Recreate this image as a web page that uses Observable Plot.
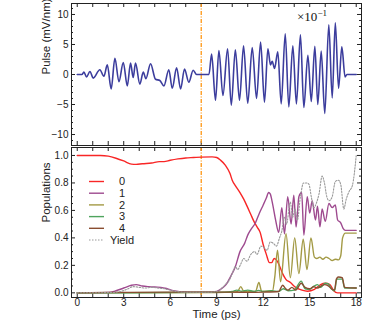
<!DOCTYPE html>
<html><head><meta charset="utf-8">
<script src="https://cdn.jsdelivr.net/npm/d3@7"></script>
<script src="https://cdn.jsdelivr.net/npm/@observablehq/plot@0.6"></script>
<style>body{margin:0;background:#fff;} svg{display:block;}</style>
</head><body><div id="chart"></div>
<script>
// ---------- DATA ----------
const pulse = [[0,0],[0.3,0],[0.43,0.4],[0.6,-0.4],[0.82,0.5],[1.03,-0.6],[1.46,0.8],[1.72,-0.3],[1.94,1.6],[2.19,-2.4],[2.43,2.7],[2.69,-1.2],[2.97,2.0],[3.23,-1.9],[3.44,1.9],[3.61,-0.5],[3.76,1.9],[4.04,-1.6],[4.26,0.4],[4.43,-0.7],[4.73,1.8],[5.05,-0.8],[5.33,-1.0],[5.59,-1.9],[5.91,0.8],[6.13,-2.3],[6.41,1.1],[6.67,-2.4],[6.92,0.9],[7.2,-1.3],[7.48,0.7],[7.7,0],[8.5,0],[8.67,3.4],[8.92,-4.3],[9.14,4.0],[9.4,-3.5],[9.7,4.3],[9.94,-5.1],[10.2,4.1],[10.47,-4.3],[10.73,4.8],[11.0,-4.8],[11.29,4.5],[11.57,-4.0],[11.83,5.4],[12.08,-4.6],[12.3,4.3],[12.47,1.6],[12.58,2.2],[12.73,1.0],[12.94,3.8],[13.16,-4.9],[13.42,6.8],[13.65,-5.4],[13.91,4.8],[14.14,-4.9],[14.4,6.6],[14.62,-5.5],[14.88,3.2],[15.1,-4.5],[15.33,4.7],[15.52,-5.0],[15.74,3.9],[15.97,-6.5],[16.23,8.3],[16.45,-3.9],[16.65,8.6],[16.86,-2.3],[17.07,4.6],[17.28,-0.4],[17.4,0],[18,0]];

const pop0 = [[0,1],[1.5,1],[2,0.995],[2.5,0.98],[3,0.96],[3.5,0.937],[3.8,0.935],[4.2,0.94],[4.8,0.945],[5.3,0.955],[5.6,0.955],[6,0.965],[6.5,0.975],[7,0.982],[7.5,0.985],[8,0.988],[8.7,0.99],[9,0.985],[9.25,0.965],[9.55,0.93],[9.85,0.87],[10,0.82],[10.2,0.78],[10.5,0.73],[10.75,0.68],[11,0.62],[11.2,0.57],[11.4,0.52],[11.6,0.48],[11.8,0.44],[12,0.35],[12.2,0.28],[12.4,0.22],[12.55,0.22],[12.7,0.25],[12.85,0.24],[13,0.21],[13.25,0.14],[13.45,0.1],[13.75,0.075],[14.1,0.04],[14.5,0.02],[14.85,0.012],[15.3,0.025],[15.7,0.06],[16,0.07],[16.3,0.06],[16.55,0.015],[16.8,0],[18,0]];
const pop1 = [[0,0],[2,0.003],[2.5,0.015],[3,0.035],[3.5,0.055],[3.8,0.06],[4.2,0.05],[4.6,0.045],[5,0.042],[5.4,0.04],[5.8,0.03],[6.2,0.015],[6.6,0.008],[7.5,0.005],[8.5,0.004],[9,0.01],[9.3,0.03],[9.6,0.06],[9.9,0.12],[10.2,0.19],[10.5,0.3],[10.8,0.36],[11,0.42],[11.2,0.46],[11.5,0.51],[11.75,0.58],[12,0.64],[12.2,0.69],[12.35,0.73],[12.45,0.72],[12.6,0.65],[12.8,0.53],[13,0.44],[13.2,0.62],[13.37,0.43],[13.58,0.7],[13.8,0.5],[13.97,0.71],[14.12,0.48],[14.3,0.7],[14.48,0.73],[14.62,0.42],[14.84,0.7],[15,0.58],[15.16,0.67],[15.37,0.53],[15.5,0.63],[15.66,0.48],[15.8,0.61],[16,0.52],[16.24,0.65],[16.45,0.62],[16.65,0.64],[16.8,0.53],[17,0.51],[17.15,0.47],[17.3,0.455],[18,0.455]];
const pop2 = [[0,0],[9,0.002],[10,0.005],[10.35,0.01],[10.55,0.045],[10.75,0.01],[11.5,0.01],[11.72,0.075],[11.9,0.01],[12.6,0.015],[12.75,0.12],[12.92,0.31],[13.12,0.08],[13.47,0.43],[13.75,0.11],[14.03,0.4],[14.3,0.14],[14.58,0.39],[14.82,0.17],[15.08,0.4],[15.3,0.26],[15.45,0.25],[15.65,0.26],[15.85,0.245],[16.05,0.26],[16.25,0.25],[16.45,0.235],[16.65,0.245],[16.85,0.24],[17,0.27],[17.12,0.4],[17.3,0.435],[18,0.435]];
const pop3 = [[0,0],[8,0.003],[9.5,0.005],[10,0.01],[10.3,0.02],[10.6,0.012],[11,0.02],[11.4,0.01],[11.7,0.018],[12,0.01],[12.5,0.015],[13,0.01],[13.3,0.03],[13.6,0.015],[14,0.02],[14.45,0.085],[14.7,0.03],[15,0.025],[15.3,0.05],[15.5,0.06],[15.7,0.04],[16,0.07],[16.2,0.065],[16.4,0.03],[16.6,0.015],[16.75,0.1],[17.1,0.1],[17.25,0.035],[18,0.035]];
const pop4 = [[0,0],[3,0.003],[6,0.005],[9,0.005],[10,0.005],[11,0.003],[12,0.005],[13,0.01],[13.25,0.055],[13.45,0.03],[13.6,0.02],[13.85,0.04],[14.1,0.02],[14.45,0.07],[14.7,0.04],[15,0.03],[15.25,0.045],[15.5,0.035],[15.75,0.05],[15.95,0.06],[16.2,0.05],[16.45,0.025],[16.6,0.02],[16.72,0.1],[16.85,0.115],[17.1,0.11],[17.25,0.04],[18,0.035]];
const yieldData = [[0,0],[2.3,0.002],[2.8,0.01],[3.2,0.025],[3.6,0.045],[4,0.04],[4.4,0.035],[4.8,0.04],[5.2,0.035],[5.6,0.03],[6,0.02],[6.4,0.01],[7,0.004],[8.5,0.004],[9,0.01],[9.3,0.03],[9.55,0.06],[9.8,0.09],[10,0.14],[10.2,0.19],[10.35,0.17],[10.55,0.21],[10.75,0.25],[10.95,0.23],[11.2,0.28],[11.45,0.3],[11.6,0.28],[11.85,0.34],[12.05,0.33],[12.25,0.31],[12.45,0.37],[12.65,0.36],[12.85,0.34],[13.05,0.4],[13.2,0.45],[13.35,0.55],[13.5,0.5],[13.75,0.66],[13.9,0.55],[14.05,0.61],[14.2,0.53],[14.4,0.7],[14.6,0.8],[14.8,0.8],[14.95,0.79],[15.1,0.7],[15.27,0.62],[15.45,0.66],[15.6,0.72],[15.8,0.85],[15.95,0.8],[16.1,0.7],[16.25,0.67],[16.45,0.7],[16.65,0.81],[16.85,0.82],[17,0.79],[17.2,0.61],[17.35,0.68],[17.55,0.74],[17.75,0.78],[18,1.0]];

const seriesNames = ["0","1","2","3","4","Yield"];
const seriesColors = ["#f82626","#9e4a8f","#a39a45","#4fa45e","#8a4d30","#9a9a9a"];
const markerTime = [8];

const xTicks = [0,1,2,3,4,5,6,7,8,9,10,11,12,13,14,15,16,17,18];
const xLabels = [0,3,6,9,12,15,18];
const pulseYLabels = [-10,-5,0,5,10];
const pulseYMinor = [-11,-9,-8,-7,-6,-4,-3,-2,-1,1,2,3,4,6,7,8,9,11];
const popYLabels = [0,0.2,0.4,0.6,0.8,1.0];
const popYMinor = [0.05,0.1,0.15,0.25,0.3,0.35,0.45,0.5,0.55,0.65,0.7,0.75,0.85,0.9,0.95];

// ---------- LAYOUT ----------
const W = 367, mL = 71, mR = 6;
const plotW = W - mL - mR;
const font = "'Liberation Sans', Arial, sans-serif";
const frameColor = "#222";
const xDomain = [-0.37, 18.34];

function frameTicks(plotH, yMajor, yMinor) {
  return [
    Plot.tickX(xTicks, {x: d => d, insetTop: plotH - 4, stroke: frameColor}),
    Plot.tickX(xTicks, {x: d => d, insetBottom: plotH - 4, stroke: frameColor}),
    Plot.tickY(yMajor, {y: d => d, insetRight: plotW - 4, stroke: frameColor}),
    Plot.tickY(yMajor, {y: d => d, insetLeft: plotW - 4, stroke: frameColor}),
    Plot.tickY(yMinor, {y: d => d, insetRight: plotW - 2, stroke: frameColor}),
    Plot.tickY(yMinor, {y: d => d, insetLeft: plotW - 2, stroke: frameColor}),
  ];
}

// ---------- TOP PANEL ----------
const topH = 146, topMT = 3, topMB = 1;
const pulseRows = pulse.map(([t, v]) => ({t, v}));
const topPlot = Plot.plot({
  width: W, height: topH, marginTop: topMT, marginBottom: topMB, marginLeft: mL, marginRight: mR,
  style: {fontFamily: font, fontSize: "10px", color: frameColor, background: "white", overflow: "visible"},
  x: {domain: xDomain, axis: null},
  y: {domain: [-11.83, 11.83], axis: null},
  marks: [
    Plot.axisY({ticks: pulseYLabels, tickSize: 0, tickPadding: 3, label: null}),
    ...frameTicks(topH - topMT - topMB, pulseYLabels, pulseYMinor),
    Plot.ruleX(markerTime, {stroke: "#ff9612", strokeWidth: 1.3, strokeDasharray: "4,1.5,1,1.5"}),
    Plot.line(pulseRows, {x: "t", y: "v", stroke: "#3c3d9d", strokeWidth: 1.6, curve: "monotone-x"}),
    Plot.text(["Pulse (mV/nm)"], {frameAnchor: "left", dx: -25, rotate: -90, fontSize: 11.5, fill: frameColor}),
    Plot.frame({stroke: frameColor}),
  ]
});

// ---------- BOTTOM PANEL ----------
const botH = 188, botMT = 1, botMB = 37;
const popRows = [];
[pop0, pop1, pop2, pop3, pop4, yieldData].forEach((s, i) => s.forEach(([t, v]) => popRows.push({t, v, s: seriesNames[i]})));
const bottomPlot = Plot.plot({
  width: W, height: botH, marginTop: botMT, marginBottom: botMB, marginLeft: mL, marginRight: mR,
  style: {fontFamily: font, fontSize: "10px", color: frameColor, background: "white", overflow: "visible"},
  x: {domain: xDomain, axis: null},
  y: {domain: [-0.034, 1.058], axis: null},
  marks: [
    Plot.axisY({ticks: popYLabels, tickSize: 0, tickPadding: 3, tickFormat: d3.format(".1f"), label: null}),
    Plot.axisX({ticks: xLabels, tickSize: 0, tickPadding: 1.5, label: null}),
    ...frameTicks(botH - botMT - botMB, popYLabels, popYMinor),
    Plot.ruleX(markerTime, {stroke: "#ff9612", strokeWidth: 1.3, strokeDasharray: "4,1.5,1,1.5"}),
    ...seriesNames.map((name, i) => Plot.line(popRows.filter(d => d.s === name), {
      x: "t", y: "v", stroke: seriesColors[i],
      strokeWidth: name === "Yield" ? 1.1 : 1.4,
      strokeDasharray: name === "Yield" ? "1.5,1.5" : null,
      curve: "monotone-x"
    })),
    Plot.text(["Populations"], {frameAnchor: "left", dx: -25, rotate: -90, fontSize: 11.5, fill: frameColor}),
    Plot.text(["Time (ps)"], {frameAnchor: "bottom", dy: 20.5, fontSize: 11.5, fill: frameColor}),
    Plot.frame({stroke: frameColor}),
  ]
});

// Legend inside bottom panel
const lg = d3.select(bottomPlot).append("g").attr("font-family", font).attr("font-size", 11);
seriesNames.forEach((name, i) => {
  const y = 35.5 + i * 11.7;
  lg.append("line").attr("x1", 89).attr("x2", 104).attr("y1", y).attr("y2", y)
    .attr("stroke", seriesColors[i]).attr("stroke-width", name === "Yield" ? 1.1 : 1.4)
    .attr("stroke-dasharray", name === "Yield" ? "1.5,1.5" : null);
  lg.append("text").attr("x", 122).attr("y", y).attr("dy", "0.35em").attr("fill", frameColor).text(name);
});

// Scale annotation on top panel
const ann = d3.select(topPlot).append("text").attr("x", 312).attr("y", 21)
  .attr("font-family", "'Liberation Serif', 'Times New Roman', serif").attr("font-size", 13).attr("fill", "#111");
ann.append("tspan").text("×10");
ann.append("tspan").attr("dy", -5).attr("font-size", 9).text("−1");

const root = document.getElementById("chart");
root.appendChild(topPlot);
root.appendChild(bottomPlot);
</script>
</body></html>
